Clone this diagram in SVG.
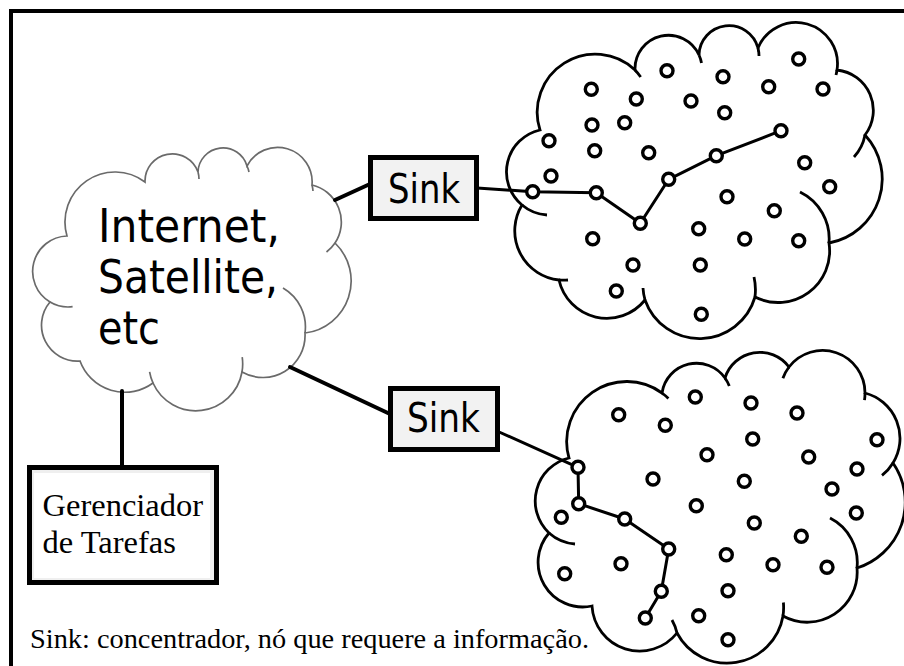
<svg xmlns="http://www.w3.org/2000/svg" width="904" height="666" viewBox="0 0 904 666">
  <style>
    .frame { fill: none; stroke: #000; stroke-width: 4; }
    .cloud-net { fill: #fff; stroke: #6a6a6a; stroke-width: 1.7; }
    .hook-net { fill: none; stroke: #6a6a6a; stroke-width: 1.7; }
    .cloud { fill: #fff; stroke: #000; stroke-width: 2.8; }
    .hook { fill: none; stroke: #000; stroke-width: 2.8; }
    .box { fill: #f2f2f2; stroke: #000; stroke-width: 5; }
    .link { fill: none; stroke: #000; stroke-width: 4; stroke-linecap: round; }
    .route { fill: none; stroke: #000; stroke-width: 3; stroke-linejoin: round; }
    .sensor { fill: #fff; stroke: #000; stroke-width: 3.4; }
    .sans { font-family: "DejaVu Sans", "Noto Sans", sans-serif; fill: #000; }
    .serif { font-family: "Liberation Serif", "Times New Roman", serif; fill: #000; }
  </style>

  <rect width="904" height="666" fill="#fff"/>
  <path class="frame" d="M 11 666 V 11 H 904"/>

  <!-- Internet / satellite cloud -->
  <g id="internet">
    <path class="cloud-net" d="M 67 236 A 50 50 0 0 1 145 182 A 27.3 27.3 0 0 1 198 172 A 25 25 0 0 1 247 166 A 34.5 34.5 0 0 1 312 185 A 38 38 0 0 1 335 243 A 52.5 52.5 0 0 1 305 333 A 42.2 42.2 0 0 1 242 372 A 46.9 46.9 0 0 1 153 383 A 47.7 47.7 0 0 1 80 361 A 35.9 35.9 0 0 1 50 302 A 35.5 35.5 0 0 1 67 236 Z"/>
    <path class="hook-net" d="M 50 302 A 35.5 35.5 0 0 0 72.6 306.7 M 335 243 A 38 38 0 0 1 326.5 252 M 283 288 A 45 45 0 0 1 305 333 M 242.2 357.2 A 46.9 46.9 0 0 1 242 372 M 153 383 A 46.9 46.9 0 0 1 149.6 371.8 M 198 172 A 27.3 27.3 0 0 1 199 179 M 247 166 A 25 25 0 0 1 249 172 M 312 185 A 34.5 34.5 0 0 1 313 191"/>
    <text class="sans" font-size="46" x="98" y="242" textLength="182" lengthAdjust="spacingAndGlyphs">Internet,</text>
    <text class="sans" font-size="46" x="98" y="293" textLength="180" lengthAdjust="spacingAndGlyphs">Satellite,</text>
    <text class="sans" font-size="46" x="98" y="344" textLength="62" lengthAdjust="spacingAndGlyphs">etc</text>
  </g>

  <!-- Upper sensor field -->
  <g id="field-upper">
    <path class="cloud" d="M 540 130 A 58 58 0 0 1 635 70 A 33.5 33.5 0 0 1 699 55 A 30 30 0 0 1 758 48 A 41.3 41.3 0 0 1 837 70 A 40.6 40.6 0 0 1 865 135 A 65 65 0 0 1 829 243 A 51.5 51.5 0 0 1 755 297 A 57.8 57.8 0 0 1 645 300 A 49 49 0 0 1 559 280 A 49.5 49.5 0 0 1 522 205 A 43 43 0 0 1 540 130 Z"/>
    <path class="hook" d="M 522 205 A 43 43 0 0 0 547 215 M 635 70 A 58 58 0 0 1 640.7 77 M 699 55 A 33.5 33.5 0 0 1 701.5 63 M 758 48 A 30 30 0 0 1 759 56 M 837 70 A 41.3 41.3 0 0 1 836 75 M 865 135 A 45 45 0 0 1 854 157 M 800 192 A 52 52 0 0 1 829 243 M 754 277 A 58 58 0 0 1 755 297 M 645 300 A 57.8 57.8 0 0 1 643 288 M 559 280 A 49.5 49.5 0 0 0 568 280"/>
  </g>

  <!-- Lower sensor field -->
  <g id="field-lower">
    <path class="cloud" d="M 569 458 A 60 60 0 0 1 662 393 A 34.9 34.9 0 0 1 725 378 A 36.4 36.4 0 0 1 789 367 A 42.4 42.4 0 0 1 865 393 A 46.9 46.9 0 0 1 893 463 A 69 69 0 0 1 857 568 A 50 50 0 0 1 783 616 A 56.7 56.7 0 0 1 677 633 A 47.7 47.7 0 0 1 592 606 A 44.7 44.7 0 0 1 549 533 A 44.2 44.2 0 0 1 569 458 Z"/>
    <path class="hook" d="M 549 533 A 44.2 44.2 0 0 0 575 544 M 662 393 A 60 60 0 0 1 668.4 398.5 M 725 378 A 34.9 34.9 0 0 1 729.3 386.1 M 782.9 378.2 A 42.4 42.4 0 0 1 789 367 M 865 393 A 42.4 42.4 0 0 1 864.5 400.1 M 893 463 A 46.9 46.9 0 0 1 882 475.4 M 830 518 A 50 50 0 0 1 857 568 M 783.4 602.5 A 56.7 56.7 0 0 1 783 616 M 672 620 A 47.7 47.7 0 0 1 677 633"/>
  </g>

  <!-- Connectors -->
  <g id="connectors">
    <line class="link" x1="335" y1="200" x2="370" y2="184"/>
    <line class="link" x1="290" y1="367" x2="390" y2="414"/>
    <line class="link" x1="122" y1="391" x2="122" y2="467"/>
    <polyline class="route" points="477,188 532.7,191.7 596.3,192.7 640.3,223.3 668.7,179.3 716.3,155.7 781,130.7"/>
    <polyline class="route" points="498,431.5 578,467.3 578.7,503.7 624.7,519 668.7,549 661.3,591.3 645.3,618"/>
  </g>

  <!-- Sensor nodes, upper field -->
  <g id="nodes-upper">
    <circle class="sensor" cx="591.3" cy="89.3" r="6"/>
    <circle class="sensor" cx="667" cy="70.7" r="6"/>
    <circle class="sensor" cx="723" cy="76.7" r="6"/>
    <circle class="sensor" cx="798.7" cy="59" r="6"/>
    <circle class="sensor" cx="768.7" cy="86.7" r="6"/>
    <circle class="sensor" cx="823" cy="89" r="6"/>
    <circle class="sensor" cx="636.3" cy="99" r="6"/>
    <circle class="sensor" cx="691" cy="101" r="6"/>
    <circle class="sensor" cx="592" cy="125" r="6"/>
    <circle class="sensor" cx="624.7" cy="122.7" r="6"/>
    <circle class="sensor" cx="724.7" cy="112.7" r="6"/>
    <circle class="sensor" cx="549" cy="140.7" r="6"/>
    <circle class="sensor" cx="594.7" cy="150.7" r="6"/>
    <circle class="sensor" cx="648.7" cy="152.7" r="6"/>
    <circle class="sensor" cx="781" cy="130.7" r="6"/>
    <circle class="sensor" cx="716.3" cy="155.7" r="6"/>
    <circle class="sensor" cx="668.7" cy="179.3" r="6"/>
    <circle class="sensor" cx="551" cy="176" r="6"/>
    <circle class="sensor" cx="532.7" cy="191.7" r="6"/>
    <circle class="sensor" cx="596.3" cy="192.7" r="6"/>
    <circle class="sensor" cx="640.3" cy="223.3" r="6"/>
    <circle class="sensor" cx="804.7" cy="162.7" r="6"/>
    <circle class="sensor" cx="829.7" cy="186.7" r="6"/>
    <circle class="sensor" cx="727" cy="196.7" r="6"/>
    <circle class="sensor" cx="774.3" cy="210.7" r="6"/>
    <circle class="sensor" cx="698.7" cy="228.7" r="6"/>
    <circle class="sensor" cx="744.7" cy="239" r="6"/>
    <circle class="sensor" cx="798.7" cy="240.7" r="6"/>
    <circle class="sensor" cx="592.7" cy="238.7" r="6"/>
    <circle class="sensor" cx="633" cy="265" r="6"/>
    <circle class="sensor" cx="700.3" cy="265" r="6"/>
    <circle class="sensor" cx="616.3" cy="291" r="6"/>
    <circle class="sensor" cx="701.3" cy="314.3" r="6"/>
  </g>

  <!-- Sensor nodes, lower field -->
  <g id="nodes-lower">
    <circle class="sensor" cx="578" cy="467.3" r="6"/>
    <circle class="sensor" cx="578.7" cy="503.7" r="6"/>
    <circle class="sensor" cx="624.7" cy="519" r="6"/>
    <circle class="sensor" cx="668.7" cy="549" r="6"/>
    <circle class="sensor" cx="661.3" cy="591.3" r="6"/>
    <circle class="sensor" cx="645.3" cy="618" r="6"/>
    <circle class="sensor" cx="618.7" cy="414.7" r="6"/>
    <circle class="sensor" cx="695.3" cy="397" r="6"/>
    <circle class="sensor" cx="665.3" cy="425.3" r="6"/>
    <circle class="sensor" cx="751" cy="403" r="6"/>
    <circle class="sensor" cx="797" cy="413" r="6"/>
    <circle class="sensor" cx="752.7" cy="439" r="6"/>
    <circle class="sensor" cx="707" cy="454.7" r="6"/>
    <circle class="sensor" cx="877" cy="439.7" r="6"/>
    <circle class="sensor" cx="808.7" cy="457" r="6"/>
    <circle class="sensor" cx="857" cy="469" r="6"/>
    <circle class="sensor" cx="653" cy="479" r="6"/>
    <circle class="sensor" cx="744.3" cy="481.3" r="6"/>
    <circle class="sensor" cx="832" cy="489" r="6"/>
    <circle class="sensor" cx="696.3" cy="505.7" r="6"/>
    <circle class="sensor" cx="856.3" cy="513" r="6"/>
    <circle class="sensor" cx="561.3" cy="517.3" r="6"/>
    <circle class="sensor" cx="754.3" cy="523" r="6"/>
    <circle class="sensor" cx="801.3" cy="536.3" r="6"/>
    <circle class="sensor" cx="726.3" cy="554.7" r="6"/>
    <circle class="sensor" cx="773" cy="564.7" r="6"/>
    <circle class="sensor" cx="827" cy="567.3" r="6"/>
    <circle class="sensor" cx="621" cy="563.7" r="6"/>
    <circle class="sensor" cx="564.7" cy="573.7" r="6"/>
    <circle class="sensor" cx="728" cy="590.7" r="6"/>
    <circle class="sensor" cx="698.7" cy="615.7" r="6"/>
    <circle class="sensor" cx="728" cy="639.7" r="6"/>
  </g>

  <!-- Sink boxes -->
  <g id="sink-upper">
    <rect class="box" x="370.5" y="157.5" width="106" height="61"/>
    <text class="sans" font-size="40" x="424" y="203" text-anchor="middle" textLength="72" lengthAdjust="spacingAndGlyphs">Sink</text>
  </g>
  <g id="sink-lower">
    <rect class="box" x="390.5" y="388.5" width="107" height="61"/>
    <text class="sans" font-size="40" x="443.5" y="432" text-anchor="middle" textLength="73" lengthAdjust="spacingAndGlyphs">Sink</text>
  </g>

  <!-- Task manager -->
  <g id="task-manager">
    <rect x="29.5" y="467.5" width="187" height="115" fill="#efefef" stroke="#000" stroke-width="5"/>
    <rect x="34" y="473" width="176" height="105" fill="#fff"/>
    <text class="serif" font-size="32.5" x="42.5" y="516">Gerenciador</text>
    <text class="serif" font-size="32.5" x="42.5" y="553">de Tarefas</text>
  </g>

  <!-- Legend -->
  <text id="legend" class="serif" font-size="28" x="30" y="648" textLength="559" lengthAdjust="spacingAndGlyphs">Sink: concentrador, nó que requere a informação.</text>
</svg>
